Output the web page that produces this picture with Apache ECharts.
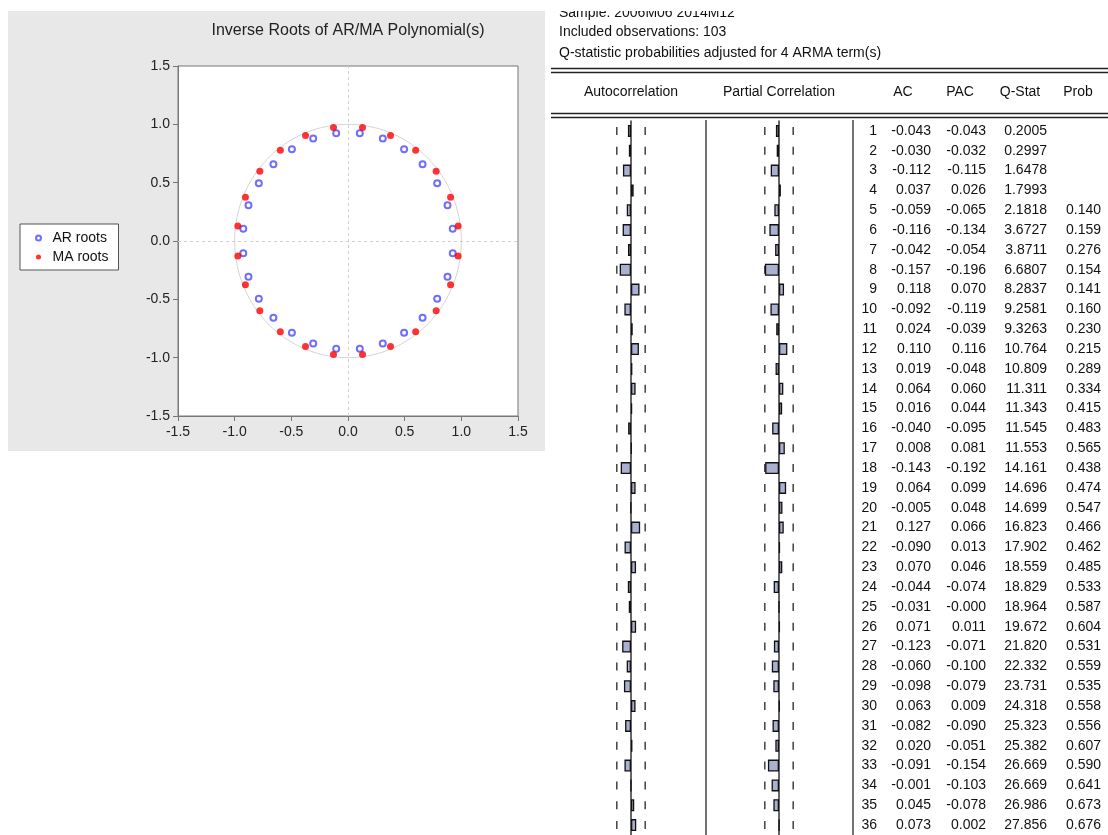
<!DOCTYPE html>
<html>
<head>
<meta charset="utf-8">
<script src="https://cdn.jsdelivr.net/npm/echarts@6/dist/echarts.min.js"></script>
<style>
html,body{margin:0;padding:0;background:#fff;}
#chart{width:1108px;height:835px;}
</style>
</head>
<body>
<div id="chart"></div>
<script>
// ---- Inverse roots ----
const arRoots = [
  [0.924,0.104],[0.878,0.307],[0.787,0.495],[0.658,0.658],[0.495,0.787],[0.307,0.878],[0.104,0.924],
  [-0.104,0.924],[-0.307,0.878],[-0.495,0.787],[-0.658,0.658],[-0.787,0.495],[-0.878,0.307],[-0.924,0.104],
  [-0.924,-0.104],[-0.878,-0.307],[-0.787,-0.495],[-0.658,-0.658],[-0.495,-0.787],[-0.307,-0.878],[-0.104,-0.924],
  [0.104,-0.924],[0.307,-0.878],[0.495,-0.787],[0.658,-0.658],[0.787,-0.495],[0.878,-0.307],[0.924,-0.104]
];
const maRoots = [
  [0.972,0.128],[0.905,0.375],[0.778,0.597],[0.597,0.778],[0.375,0.905],[0.128,0.972],
  [-0.128,0.972],[-0.375,0.905],[-0.597,0.778],[-0.778,0.597],[-0.905,0.375],[-0.972,0.128],
  [-0.972,-0.128],[-0.905,-0.375],[-0.778,-0.597],[-0.597,-0.778],[-0.375,-0.905],[-0.128,-0.972],
  [0.128,-0.972],[0.375,-0.905],[0.597,-0.778],[0.778,-0.597],[0.905,-0.375],[0.972,-0.128]
];
const rootTicks = [-1.5,-1.0,-0.5,0.0,0.5,1.0,1.5];

// ---- Correlogram ----
const lags = ['1','2','3','4','5','6','7','8','9','10','11','12','13','14','15','16','17','18','19','20','21','22','23','24','25','26','27','28','29','30','31','32','33','34','35','36'];
const acText = ['-0.043','-0.030','-0.112','0.037','-0.059','-0.116','-0.042','-0.157','0.118','-0.092','0.024','0.110','0.019','0.064','0.016','-0.040','0.008','-0.143','0.064','-0.005','0.127','-0.090','0.070','-0.044','-0.031','0.071','-0.123','-0.060','-0.098','0.063','-0.082','0.020','-0.091','-0.001','0.045','0.073'];
const pacText = ['-0.043','-0.032','-0.115','0.026','-0.065','-0.134','-0.054','-0.196','0.070','-0.119','-0.039','0.116','-0.048','0.060','0.044','-0.095','0.081','-0.192','0.099','0.048','0.066','0.013','0.046','-0.074','-0.000','0.011','-0.071','-0.100','-0.079','0.009','-0.090','-0.051','-0.154','-0.103','-0.078','0.002'];
const qStat = ['0.2005','0.2997','1.6478','1.7993','2.1818','3.6727','3.8711','6.6807','8.2837','9.2581','9.3263','10.764','10.809','11.311','11.343','11.545','11.553','14.161','14.696','14.699','16.823','17.902','18.559','18.829','18.964','19.672','21.820','22.332','23.731','24.318','25.323','25.382','26.669','26.669','26.986','27.856'];
const prob = ['','','','','0.140','0.159','0.276','0.154','0.141','0.160','0.230','0.215','0.289','0.334','0.415','0.483','0.565','0.438','0.474','0.547','0.466','0.462','0.485','0.533','0.587','0.604','0.531','0.559','0.535','0.558','0.556','0.607','0.590','0.641','0.673','0.676'];
const bound = 0.197;
const headerLines = ['Sample: 2006M06 2014M12','Included observations: 103','Q-statistic probabilities adjusted for 4 ARMA term(s)'];
const colHeaders = ['Autocorrelation','Partial Correlation','AC','PAC','Q-Stat','Prob'];

const FONT = '"Liberation Sans", Arial, sans-serif';
const acVals = acText.map(Number);
const pacVals = pacText.map(Number);

const chart = echarts.init(document.getElementById('chart'), null, {renderer:'canvas'});

function dashRender(params, api){
  const idx = api.value(0);
  const a = api.coord([-bound, idx]);
  const b = api.coord([bound, idx]);
  const st = {stroke:'#333', lineWidth:1.4};
  return {type:'group', children:[
    {type:'line', shape:{x1:a[0], y1:a[1]-4, x2:a[0], y2:a[1]+4}, style:st},
    {type:'line', shape:{x1:b[0], y1:b[1]-4, x2:b[0], y2:b[1]+4}, style:st}
  ]};
}
function textRender(params, api){
  const idx = api.value(0);
  const y = api.coord([0, idx])[1];
  const i = params.dataIndex;
  const cols = [[877, lags[i]],[931, acText[i]],[986, pacText[i]],[1047, qStat[i]],[1101, prob[i]]];
  return {type:'group', children: cols.map(c => ({
    type:'text', style:{text:c[1], x:c[0], y:y, align:'right', verticalAlign:'middle', font:'14px '+FONT, fill:'#111'}
  }))};
}
function circleRender(params, api){
  const pts = [];
  for (let d = 0; d <= 360; d += 2) {
    const r = d*Math.PI/180;
    pts.push(api.coord([Math.cos(r), Math.sin(r)]));
  }
  return {type:'polyline', shape:{points:pts}, style:{stroke:'#d4d4d4', lineWidth:1, fill:null}};
}

const idxData = lags.map((l,i)=>[i]);

const graphic = [
  {type:'rect', z:-10, silent:true, shape:{x:8, y:11, width:537, height:440}, style:{fill:'#e8e8e8'}},
  {type:'text', x:348, y:31, style:{text:'Inverse Roots of AR/MA Polynomial(s)', font:'16px '+FONT, fill:'#222', align:'center', verticalAlign:'middle'}},
  // header text lines
  {type:'text', x:559, y:13, style:{text:headerLines[0], font:'14px '+FONT, fill:'#111', verticalAlign:'middle'}},
  {type:'rect', z:5, shape:{x:551, y:0, width:557, height:11}, style:{fill:'#fff'}},
  {type:'text', x:559, y:32, style:{text:headerLines[1], font:'14px '+FONT, fill:'#111', verticalAlign:'middle'}},
  {type:'text', x:559, y:53, style:{text:headerLines[2], font:'14px '+FONT, fill:'#111', verticalAlign:'middle'}},
  // double rules
  {type:'line', shape:{x1:551, y1:68.5, x2:1108, y2:68.5}, style:{stroke:'#222', lineWidth:1.5}},
  {type:'line', shape:{x1:551, y1:72.5, x2:1108, y2:72.5}, style:{stroke:'#222', lineWidth:1.5}},
  {type:'line', shape:{x1:551, y1:113.5, x2:1108, y2:113.5}, style:{stroke:'#222', lineWidth:1.5}},
  {type:'line', shape:{x1:551, y1:117.5, x2:1108, y2:117.5}, style:{stroke:'#222', lineWidth:1.5}},
  // column headers
  {type:'text', x:631, y:92, style:{text:colHeaders[0], font:'14px '+FONT, fill:'#111', align:'center', verticalAlign:'middle'}},
  {type:'text', x:779, y:92, style:{text:colHeaders[1], font:'14px '+FONT, fill:'#111', align:'center', verticalAlign:'middle'}},
  {type:'text', x:903, y:92, style:{text:colHeaders[2], font:'14px '+FONT, fill:'#111', align:'center', verticalAlign:'middle'}},
  {type:'text', x:960, y:92, style:{text:colHeaders[3], font:'14px '+FONT, fill:'#111', align:'center', verticalAlign:'middle'}},
  {type:'text', x:1020, y:92, style:{text:colHeaders[4], font:'14px '+FONT, fill:'#111', align:'center', verticalAlign:'middle'}},
  {type:'text', x:1078, y:92, style:{text:colHeaders[5], font:'14px '+FONT, fill:'#111', align:'center', verticalAlign:'middle'}},
  // separators
  {type:'line', shape:{x1:706, y1:120, x2:706, y2:835}, style:{stroke:'#444', lineWidth:1.5}},
  {type:'line', shape:{x1:853, y1:120, x2:853, y2:835}, style:{stroke:'#444', lineWidth:1.5}}
];

const catAxis = (gi) => ({
  type:'category', gridIndex:gi, data:lags, inverse:true,
  axisLine:{show:true, onZero:true, lineStyle:{color:'#333', width:1.5}},
  axisTick:{show:false}, axisLabel:{show:false}, splitLine:{show:false}
});
const valAxis = (gi) => ({
  type:'value', gridIndex:gi, min:-0.5, max:0.5, show:false, splitLine:{show:false}
});
const barStyle = {color:'#a9b0d0', borderColor:'#111', borderWidth:1.3};

const option = {
  animation:false,
  textStyle:{fontFamily:FONT},
  graphic: graphic,
  legend: {
    orient:'vertical', left:20, top:224, backgroundColor:'#fff', borderColor:'#555', borderWidth:1,
    padding:[7,10,6,15], itemGap:5, itemWidth:18, itemHeight:5,
    textStyle:{fontSize:14, color:'#111', fontFamily:FONT},
    data:['AR roots','MA roots']
  },
  grid: [
    {left:178, top:66, width:340, height:350, show:true, backgroundColor:'#fff', borderColor:'#777', borderWidth:1},
    {left:595, top:121, width:72, height:720},
    {left:743, top:121, width:72, height:720}
  ],
  xAxis: [
    {type:'value', gridIndex:0, min:-1.5, max:1.5, interval:0.5,
     axisLine:{show:true, onZero:false, lineStyle:{color:'#777'}},
     axisTick:{show:true, length:5, lineStyle:{color:'#777'}},
     axisLabel:{fontSize:14, color:'#222', margin:9, formatter:v=>v.toFixed(1)},
     splitLine:{show:false}},
    valAxis(1), valAxis(2)
  ],
  yAxis: [
    {type:'value', gridIndex:0, min:-1.5, max:1.5, interval:0.5,
     axisLine:{show:true, onZero:false, lineStyle:{color:'#777'}},
     axisTick:{show:true, length:5, lineStyle:{color:'#777'}},
     axisLabel:{fontSize:14, color:'#222', margin:8, formatter:v=>v.toFixed(1)},
     splitLine:{show:false}},
    catAxis(1), catAxis(2)
  ],
  series: [
    {type:'custom', name:'unit', xAxisIndex:0, yAxisIndex:0, data:[[0,0]], renderItem:circleRender, silent:true, z:1,
     markLine:{silent:true, symbol:'none', label:{show:false}, lineStyle:{color:'#cfcfcf', type:[3,3], width:1},
       data:[{xAxis:0},{yAxis:0}]}},
    {type:'scatter', name:'AR roots', xAxisIndex:0, yAxisIndex:0, data:arRoots, symbol:'emptyCircle', symbolSize:6,
     itemStyle:{color:'#4a4aff', borderColor:'#4a4aff', borderWidth:0.9}, z:3},
    {type:'scatter', name:'MA roots', xAxisIndex:0, yAxisIndex:0, data:maRoots, symbol:'circle', symbolSize:7,
     itemStyle:{color:'#ff0000'}, z:3},
    {type:'bar', xAxisIndex:1, yAxisIndex:1, data:acVals, barWidth:12, itemStyle:barStyle, z:3},
    {type:'bar', xAxisIndex:2, yAxisIndex:2, data:pacVals, barWidth:12, itemStyle:barStyle, z:3},
    {type:'custom', xAxisIndex:1, yAxisIndex:1, data:idxData, renderItem:dashRender, silent:true},
    {type:'custom', xAxisIndex:2, yAxisIndex:2, data:idxData, renderItem:dashRender, silent:true},
    {type:'custom', xAxisIndex:1, yAxisIndex:1, data:idxData, renderItem:textRender, silent:true, clip:false}
  ]
};
chart.setOption(option);
</script>
</body>
</html>
